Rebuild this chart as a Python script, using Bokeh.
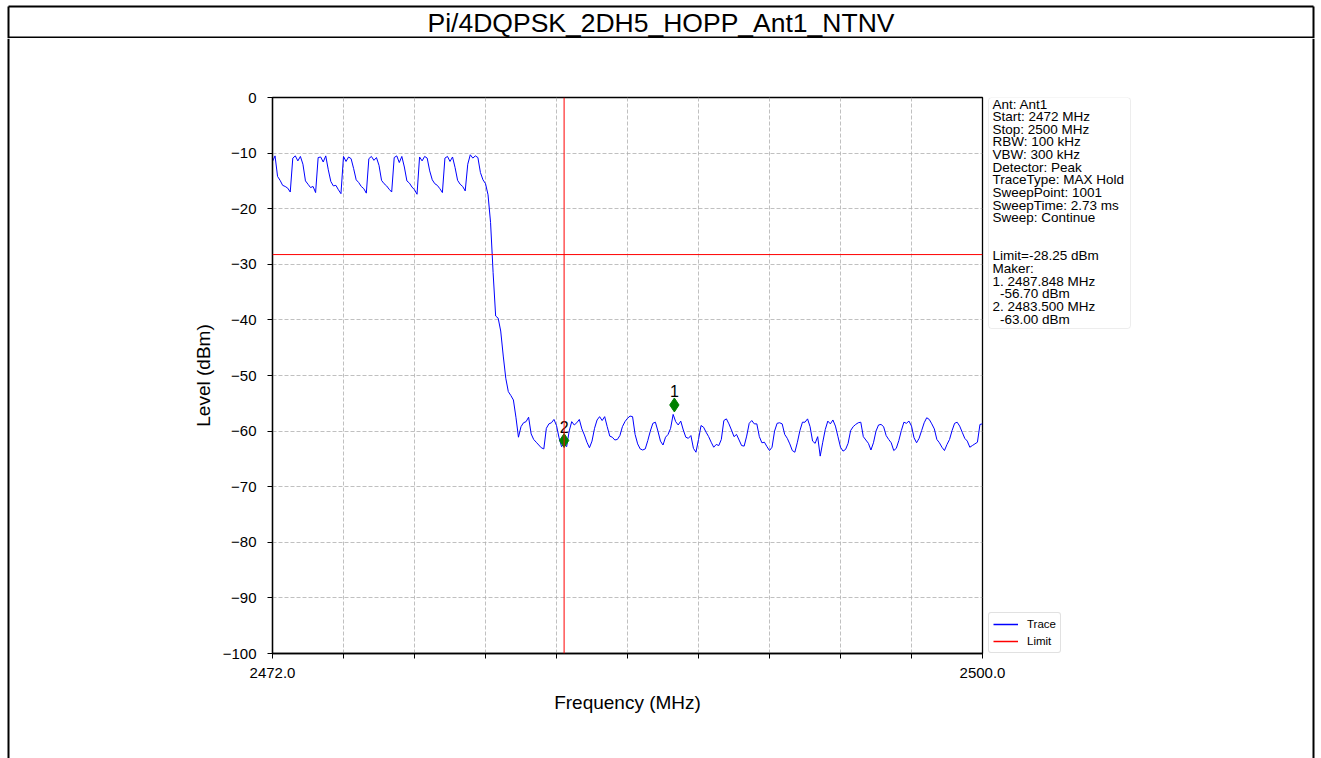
import numpy as np
from bokeh.plotting import figure
from bokeh.layouts import row, column
from bokeh.models import (Range1d, FixedTicker, Span, BoxAnnotation, Legend,
                          LegendItem, CustomJSTickFormatter)
from bokeh.core.properties import value
from bokeh.embed import file_html
from bokeh.resources import INLINE

# ---------------- data ----------------
title_text = "Pi/4DQPSK_2DH5_HOPP_Ant1_NTNV"
freq_start = 2472.0
freq_stop = 2500.0
level_min = -100
level_max = 0
y_ticks = [0, -10, -20, -30, -40, -50, -60, -70, -80, -90, -100]
limit_level = -28.25
band_edge = 2483.5

trace_level = [
    -11.5, -10.5, -14.2, -14.9, -15.8, -16.0, -16.3, -17.0,
    -10.9, -10.5, -11.4, -10.6, -12.0, -15.0, -15.6, -16.2, -16.0, -17.1,
    -10.8, -10.7, -11.6, -10.5, -13.0, -15.1, -15.9, -15.8, -16.6, -17.3,
    -10.6, -11.5, -10.7, -11.0, -12.8, -14.8, -15.3, -16.0, -16.4, -17.2,
    -11.0, -10.6, -11.3, -10.8, -12.2, -14.9, -15.5, -15.9, -16.5, -17.0,
    -10.8, -10.5, -11.7, -10.6, -12.5, -15.0, -15.4, -16.1, -16.6, -17.4,
    -10.7, -11.4, -10.6, -10.9, -13.2, -14.8, -15.5, -15.8, -16.4, -17.1,
    -10.9, -10.6, -11.5, -10.7, -12.6, -14.9, -15.6, -16.0, -16.8,
    -12.0,
    -10.3, -10.9, -10.5, -10.8,
    -13.5, -14.8, -15.5, -17.5, -22.5, -31.5, -39.3, -39.7, -42.0, -46.5,
    -50.5, -52.9, -53.6, -54.4, -57.5, -61.1, -59.2, -58.5, -58.3, -57.5,
    -60.5, -61.5, -62.0, -62.5,
    -63.0, -63.2, -59.5, -58.7, -58.5, -57.9, -59.0, -61.2, -62.8,
    -62.2, -62.8, -60.0, -58.3, -58.9, -58.5, -57.9, -59.6, -60.7, -62.0,
    -63.0, -61.8, -59.5, -58.0, -57.4, -58.1, -57.4, -59.2, -60.9, -61.1,
    -61.6, -61.5, -60.8, -59.2, -58.3, -57.7, -57.3, -57.4, -60.6, -62.3,
    -63.2, -63.4, -63.2, -61.7, -60.0, -58.6, -58.4, -60.0, -61.8, -62.5,
    -61.1, -60.6, -59.5, -57.0, -58.3, -58.9, -58.2, -59.8, -61.1, -61.3,
    -60.8, -63.1, -63.8, -61.5, -59.0, -59.3, -60.2, -61.0, -62.0, -62.9,
    -62.4, -62.6, -61.5, -58.1, -57.8, -58.7, -59.8, -61.0, -60.6, -61.6,
    -62.6, -62.7, -60.9, -58.6, -58.1, -58.7, -58.7, -61.0, -62.1, -62.0,
    -62.8, -63.5, -62.9, -60.0, -58.6, -58.5, -58.7, -60.6, -61.3, -62.3,
    -63.5, -63.8, -62.0, -59.9, -58.4, -58.4, -57.8, -59.2, -61.8, -62.2,
    -61.0, -64.5, -62.0, -59.7, -58.2, -58.7, -58.0, -59.1, -61.0, -62.9,
    -63.6, -63.3, -62.2, -59.9, -59.2, -58.8, -58.5, -58.4, -61.0, -61.6,
    -62.2, -63.4, -62.1, -60.0, -58.9, -58.8, -59.2, -60.8, -61.5, -62.1,
    -63.5, -63.1, -61.7, -59.9, -58.4, -58.6, -58.2, -59.1, -61.2, -62.1,
    -61.3, -59.9, -58.5, -57.6, -57.9, -58.7, -59.6, -61.5, -62.1, -62.9,
    -63.5, -62.4, -61.5, -59.9, -58.6, -58.4, -59.1, -60.2, -61.3, -61.8,
    -62.9, -62.6, -62.3, -62.0, -58.8, -58.7,
]
trace_freq = np.linspace(freq_start, freq_stop, len(trace_level))

marker_ids = ["1", "2"]
marker_freq = [2487.848, 2483.500]
marker_plot_level = [-55.3, -61.7]

info_lines = [
    "Ant: Ant1",
    "Start: 2472 MHz",
    "Stop: 2500 MHz",
    "RBW: 100 kHz",
    "VBW: 300 kHz",
    "Detector: Peak",
    "TraceType: MAX Hold",
    "SweepPoint: 1001",
    "SweepTime: 2.73 ms",
    "Sweep: Continue",
    "",
    "",
    "Limit=-28.25 dBm",
    "Maker:",
    "1. 2487.848 MHz",
    "\u00a0\u00a0-56.70 dBm",
    "2. 2483.500 MHz",
    "\u00a0\u00a0-63.00 dBm",
]

FONT = "Liberation Sans"
PAGE_W, PAGE_H = 1321, 758
TITLE_H = 38
STRIP_W = 16
CHART_W = 969          # page x 16 .. 985
RIGHT_W = PAGE_W - 2 * STRIP_W - CHART_W   # page x 985 .. 1305
CHART_H = 625          # page y 38 .. 663
BOTTOM_H = PAGE_H - TITLE_H - CHART_H      # page y 663 .. 758
BORDER_TOP, BORDER_BOTTOM = 59, 10         # chart frame: page y 97 .. 653


def blank_fig(w, h, xr, yr, **kw):
    f = figure(width=w, height=h, x_range=xr, y_range=yr,
               output_backend="svg", toolbar_location=None,
               x_axis_location=None, y_axis_location=None, min_border=0, **kw)
    f.outline_line_color = None
    f.grid.visible = False
    f.background_fill_color = "white"
    f.border_fill_color = "white"
    return f


# ---------------- title row ----------------
tf = blank_fig(PAGE_W, TITLE_H, Range1d(0, PAGE_W), Range1d(TITLE_H, 0))
tf.segment(x0=[8, 8, 8, 1313], y0=[6, 37, 6, 6], x1=[1313, 1313, 8, 1313],
           y1=[6, 37, TITLE_H, TITLE_H], line_color="black", line_width=2)
tf.text(x=[660.5], y=[22], text=[title_text], text_align="center",
        text_baseline="middle", text_font=value(FONT),
        text_font_size="26.5px", text_color="black")

# ---------------- side strips (outer table border) ----------------
lf = blank_fig(STRIP_W, PAGE_H - TITLE_H, Range1d(0, STRIP_W), Range1d(PAGE_H - TITLE_H, 0))
lf.segment(x0=[8], y0=[0], x1=[8], y1=[PAGE_H - TITLE_H], line_color="black", line_width=2)
rf_strip = blank_fig(STRIP_W, PAGE_H - TITLE_H, Range1d(0, STRIP_W), Range1d(PAGE_H - TITLE_H, 0))
rf_strip.segment(x0=[8], y0=[0], x1=[8], y1=[PAGE_H - TITLE_H], line_color="black", line_width=2)

# ---------------- chart ----------------
x_range = Range1d(freq_start, freq_stop)
p = figure(width=CHART_W, height=CHART_H,
           x_range=x_range, y_range=Range1d(level_min, level_max),
           output_backend="svg", toolbar_location=None,
           min_border_left=256, min_border_right=3,
           min_border_top=BORDER_TOP, min_border_bottom=BORDER_BOTTOM)
p.background_fill_color = "white"
p.border_fill_color = "white"
p.outline_line_color = "black"
p.outline_line_width = 1.3

x_ticks = list(np.linspace(freq_start, freq_stop, 11))
p.xaxis.ticker = FixedTicker(ticks=x_ticks)
p.xaxis.formatter = CustomJSTickFormatter(code="return '';")
p.xaxis.major_label_text_font_size = "0px"
p.xaxis.major_label_standoff = 0
p.yaxis.ticker = FixedTicker(ticks=y_ticks)
p.yaxis.formatter = CustomJSTickFormatter(
    code="return tick < 0 ? '\u2212' + Math.abs(tick).toFixed(0) : tick.toFixed(0);")

for ax in (p.xaxis, p.yaxis):
    ax.axis_line_color = "black"
    ax.axis_line_width = 1.3
    ax.major_tick_line_color = "black"
    ax.major_tick_out = 5
    ax.major_tick_in = 0
    ax.minor_tick_line_color = None
p.yaxis.major_label_text_font = FONT
p.yaxis.major_label_text_font_size = "15px"
p.yaxis.major_label_text_color = "black"
p.yaxis.axis_label = "Level (dBm)"
p.yaxis.axis_label_text_font = FONT
p.yaxis.axis_label_text_font_size = "19px"
p.yaxis.axis_label_text_font_style = "normal"
p.yaxis.axis_label_text_color = "black"
p.yaxis.major_label_standoff = 11
p.yaxis.axis_label_standoff = 6

p.xgrid.ticker = FixedTicker(ticks=x_ticks)
p.ygrid.ticker = FixedTicker(ticks=y_ticks)
for g in (p.xgrid, p.ygrid):
    g.grid_line_color = "#b0b0b0"
    g.grid_line_dash = "4 2"
    g.grid_line_width = 0.8

p.line(trace_freq, trace_level, line_color="#0000ff", line_width=1)
p.add_layout(Span(location=limit_level, dimension="width",
                  line_color="#ff0000", line_width=1))
p.add_layout(Span(location=band_edge, dimension="height",
                  line_color="#ff0000", line_width=1))
p.scatter(marker_freq, marker_plot_level, marker="diamond", size=14,
          fill_color="#008000", line_color="#008000")
p.text(marker_freq, marker_plot_level, text=marker_ids, y_offset=-8,
       text_align="center", text_baseline="bottom",
       text_font=value(FONT), text_font_size="16px", text_color="black")

# ---------------- x tick labels + axis title ----------------
bf = figure(width=CHART_W + RIGHT_W, height=BOTTOM_H, x_range=x_range,
            y_range=Range1d(0, 1), output_backend="svg", toolbar_location=None,
            y_axis_location=None, min_border_left=256,
            min_border_right=CHART_W + RIGHT_W - 256 - 710,
            min_border_top=0, min_border_bottom=BOTTOM_H - 1)
bf.outline_line_color = None
bf.grid.visible = False
bf.background_fill_color = "white"
bf.border_fill_color = "white"
bf.xaxis.ticker = FixedTicker(ticks=x_ticks)
bf.xaxis.formatter = CustomJSTickFormatter(
    code="return (index == 0 || index == ticks.length - 1) ? tick.toFixed(1) : '';")
bf.xaxis.axis_line_color = None
bf.xaxis.major_tick_line_color = None
bf.xaxis.minor_tick_line_color = None
bf.xaxis.major_tick_out = 0
bf.xaxis.major_tick_in = 0
bf.xaxis.major_label_standoff = 3
bf.xaxis.major_label_text_font = FONT
bf.xaxis.major_label_text_font_size = "15px"
bf.xaxis.major_label_text_color = "black"
bf.xaxis.axis_label = "Frequency (MHz)"
bf.xaxis.axis_label_text_font = FONT
bf.xaxis.axis_label_text_font_size = "19px"
bf.xaxis.axis_label_text_font_style = "normal"
bf.xaxis.axis_label_text_color = "black"
bf.xaxis.axis_label_standoff = 11

# ---------------- info box + legend (right of the chart) ----------------
# this panel's frame is aligned with the chart frame (page y 97 .. 653); data units = page pixels
rp = blank_fig(RIGHT_W, CHART_H, Range1d(985, 985 + RIGHT_W),
               Range1d(TITLE_H + CHART_H - BORDER_BOTTOM, TITLE_H + BORDER_TOP))
rp.min_border_top = BORDER_TOP
rp.min_border_bottom = BORDER_BOTTOM
rp.add_layout(BoxAnnotation(left=988, right=1130, top=97, bottom=328,
                            fill_color=None, level="underlay",
                            line_color="#c4c4c4", line_width=1, border_radius=3))
pitch = 12.65
rp.text(x=[992] * len(info_lines),
        y=[103.5 + i * pitch for i in range(len(info_lines))],
        text=info_lines, text_align="left", text_baseline="middle",
        text_font=value(FONT), text_font_size="13.5px", text_color="black")

# legend swatches: renderers whose data lies outside this panel's ranges
tr = rp.line(trace_freq, trace_level, line_color="#0000ff", line_width=1.5)
lr = rp.line([freq_start, freq_stop], [limit_level, limit_level],
             line_color="#ff0000", line_width=1.5)
legend = Legend(items=[LegendItem(label="Trace", renderers=[tr]),
                       LegendItem(label="Limit", renderers=[lr])],
                location=(3, 0), orientation="vertical",
                label_text_font=FONT, label_text_font_size="11.5px",
                label_text_color="black",
                glyph_width=25, glyph_height=14, label_height=14,
                label_standoff=9, padding=4, spacing=3, margin=0,
                border_line_color="#c4c4c4", border_line_width=1,
                border_radius=3, background_fill_color="white",
                background_fill_alpha=1)
rp.add_layout(legend)

layout = column(
    tf,
    row(lf, column(row(p, rp), bf), rf_strip),
)

open("out.html", "w").write(file_html(layout, INLINE))
